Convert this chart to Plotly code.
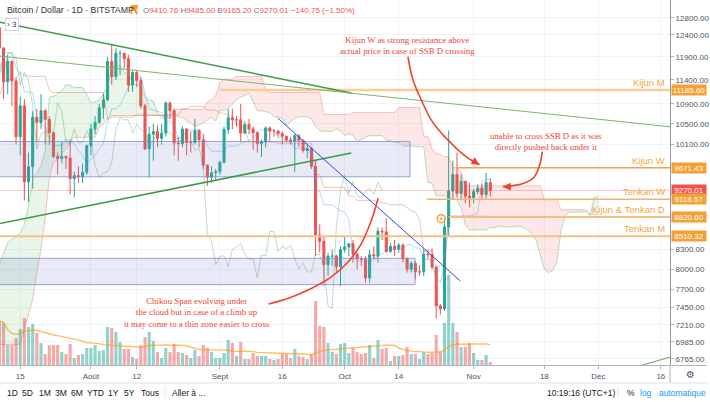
import numpy as np
import pandas as pd
import plotly.graph_objects as go

# ---------------- data ----------------
candle_start = "2019-07-10"
first_open = 12570.0
close = [12100, 11360, 11800, 11380, 10250, 10860, 9420, 9690, 10630, 10530, 10760, 10590, 10330, 9880, 9840, 9880, 9850, 9480, 9530, 9510, 9590, 10080,
         10400, 10530, 10820, 10980, 11800, 11470, 11980, 11980, 11860, 11290, 11560, 11390, 10860, 10020, 10300, 10350, 10220, 10320, 10920, 10760, 10130, 10120, 10400, 10140, 10140, 10370, 10190, 9720, 9500, 9580, 9600,
         9770, 10390, 10620, 10580, 10580, 10320, 10490, 10400, 10330, 10120, 10150, 10420, 10360, 10360, 10310, 10260, 10190, 10160, 10270, 10180, 9990, 10030, 9700, 8530, 8430, 8070, 8200, 8200, 8040, 8300,
         8340, 8390, 8230, 8160, 8150, 7870, 8220, 8200, 8590, 8580, 8270, 8350, 8310, 8370, 8160, 8000, 8090, 7960, 7960, 8230, 8220, 8030, 7470, 7430, 8660, 9260, 9550, 9220, 9430, 9170, 9150,
         9250, 9310, 9200, 9410.76, 9270.01]
high = [13200, 12120, 11950, 11830, 11450, 11050, 11000, 9950, 10750, 10800, 11100, 10800, 10650, 10350, 9950, 10150, 9900, 10200, 9600, 9700, 9750, 10100,
        10500, 10650, 10900, 11100, 11900, 12200, 12100, 12050, 12000, 11950, 11600, 11600, 11450, 10900, 10450, 10500, 10470, 10500, 10950, 10950, 10800, 10250, 10450, 10420, 10350, 10600, 10400, 10300, 9730, 9700, 9650,
        9800, 10450, 10800, 10800, 10650, 10900, 10550, 10600, 10450, 10350, 10200, 10450, 10450, 10400, 10380, 10350, 10270, 10250, 10300, 10300, 10200, 10100, 10050, 9800, 8700, 8500, 8250, 8300, 8220, 8350,
        8500, 8400, 8450, 8250, 8200, 8200, 8300, 8350, 8650, 8650, 8800, 8400, 8450, 8400, 8400, 8180, 8120, 8120, 8060, 8300, 8300, 8320, 8050, 7500, 8800, 10370, 9800, 9950, 9550, 9440, 9400,
        9300, 9380, 9380, 9580, 9485.00]
low = [11600, 11000, 11100, 10850, 10100, 9900, 9100, 9070, 9300, 10150, 10400, 10100, 10100, 9850, 9550, 9750, 9650, 9200, 9150, 9400, 9400, 9550,
       9900, 10300, 10500, 10600, 10950, 11300, 11400, 11500, 11650, 11150, 11150, 11250, 10800, 10000, 9500, 9800, 10050, 10100, 10250, 10600, 9900, 9800, 10050, 9900, 9950, 10100, 10050, 9650, 9350, 9400, 9450,
       9550, 9750, 10300, 10400, 10450, 10150, 10300, 10300, 10000, 9950, 9870, 10050, 10150, 10250, 10250, 10100, 10150, 10100, 9600, 10050, 9950, 9850, 9650, 8200, 8250, 7750, 7900, 8050, 7950, 7750,
       8250, 8200, 8100, 8000, 8050, 7800, 7800, 8150, 8100, 8450, 8250, 8250, 8200, 8250, 8100, 7950, 7950, 7850, 7900, 7900, 8150, 8000, 7300, 7350, 7400, 8500, 9100, 9150, 9100, 9050, 8980,
       9050, 9200, 9100, 9140, 9165.20]
volume = [22000, 21000, 10000, 10000, 13500, 18000, 23500, 19000, 20500, 16000, 11000, 5500, 10000, 10000, 10000, 6500, 5500, 10500, 3500, 5000, 5500, 8500,
          8500, 10000, 7000, 7500, 19000, 18500, 16500, 11500, 8000, 8000, 4000, 3000, 10000, 14000, 16500, 12000, 6500, 3500, 8500, 6500, 10500, 6500, 6000, 5000, 3500, 7500, 4500, 10000, 8500, 6500, 3500,
          3500, 6000, 12500, 11000, 4500, 11500, 3000, 3000, 6000, 4500, 4500, 4500, 3000, 2500, 3000, 5500, 5500, 3500, 8000, 4500, 4000, 3000, 5500, 32000, 19500, 19000, 11000, 6500, 5500, 10500,
          11000, 6000, 8500, 6500, 5500, 6000, 10000, 3500, 12500, 8000, 8500, 2000, 4500, 4500, 5000, 9000, 5500, 5500, 3000, 6500, 5500, 6000, 15000, 6500, 21000, 45000, 21000, 16500, 9000, 9000, 11000,
          6000, 2500, 2500, 5000, 1500]

tenkan = [11450, 12000, 12000, 12000, 11650, 11550, 11150, 11135, 11135, 10595, 10510, 10450, 10260, 10085, 10085, 10085, 10200, 10150, 10125, 9975, 9900, 9750,
          9825, 9900, 10025, 10125, 10525, 10800, 10800, 10875, 11050, 11250, 11350, 11400, 11500, 11100, 10800, 10775, 10750, 10725, 10550, 10550, 10475, 10225, 10225, 10375, 10375, 10375, 10375, 10300, 10075, 9975, 9975,
          9975, 9975, 10075, 10075, 10075, 10125, 10150, 10175, 10225, 10325, 10385, 10385, 10385, 10385, 10235, 10235, 10160, 10160, 10025, 10025, 10025, 10000, 9990, 9275, 9250, 9025, 9025, 9025, 8975, 8925,
          8900, 8775, 8225, 8125, 8125, 8125, 8125, 8125, 8225, 8225, 8300, 8300, 8300, 8300, 8300, 8375, 8375, 8325, 8325, 8150, 8150, 8125, 7850, 7810, 8050, 8835, 8835, 8835, 8835, 8835, 8835,
          8860, 8885, 9435, 9465, 9465]
kijun = [11065, 11340, 11415, 11415, 11440, 11565, 11490, 11475, 11475, 11475, 11475, 11475, 11185, 11135, 11135, 11135, 11135, 11135, 11135, 11135, 11135, 11135,
         11135, 11135, 11135, 11135, 10595] + [10635] * 6 + [10675] * 11 + [10800] * 2 + [10850] * 4 + [10775] * 3 + \
        [10725, 10700, 10675, 10650, 10475, 10475, 10400] + [10150] * 7 + [10125] * 9 + [9550, 9550] + [9325] * 5 + \
        [9325, 9175, 9175] + [9100] * 5 + [9075, 9065, 9050] + [9025] * 4 + [8975, 8925, 8900, 8775] + [8275] * 3 + [8050] * 3 + [8835] * 6 + \
        [8835] * 5

cloud_start = "2019-07-10"
span_a = [8075, 8240, 8410, 8460, 8510, 8560, 8700, 9000, 9490, 9575, 9710, 10000, 11040, 11050, 11115, 11165, 11300, 11290, 11240, 11240, 11240, 11095,
          10920, 10945, 10980, 11120, 11260, 11670, 11710, 11710, 11545, 11560, 11320, 11305, 11305, 11030, 10980, 10960, 10720, 10610, 10610, 10610, 10670, 10640, 10630, 10555, 10520, 10440, 10480, 10520, 10580, 10630, 10555,
          10770, 10770, 10805, 10890, 10990, 11040, 11070, 11120, 10920, 10760, 10760, 10740, 10725, 10640, 10640, 10600, 10475, 10540, 10610, 10640, 10640, 10640, 10600, 10450, 10360, 10360, 10350, 10350, 10400, 10360,
          10275, 10300, 10275, 10160, 10190, 10240, 10270, 10270, 10270, 10270, 10180, 10180, 10140, 10140, 10075, 10075, 10075, 10060, 10060, 10060, 9410, 9400, 9175, 9175, 9175, 9150, 9125, 9110, 8975, 8700, 8610,
          8610, 8610, 8610, 8610, 8650, 8645, 8675, 8660, 8660, 8660, 8660, 8675, 8650, 8610, 8550, 8450, 8210, 8000, 7950, 7980, 8100, 8600, 8835, 8900, 8900, 8900, 8900, 8910, 8850, 9150,
          9180]
span_b = [6950, 6950, 6950, 6950, 6950, 6950, 7150, 7350, 7560, 7950, 8300, 8800, 9500, 9790, 9815, 9940, 10015, 10140, 10240, 10240, 10240, 10240,
          10240, 10240, 10440, 10500, 10600] + [10665] * 15 + [10790] * 8 + [10940, 10990, 11065] + \
         [11340] + [11415] * 3 + [11475] * 7 + [11185] + [11135] * 13 + [10685] * 5 + \
         [10685] * 2 + [10725] * 11 + [10825] * 6 + [10250, 10250, 10025, 9925, 9925, 9875, 9875, 9675, 9675, 9600, 9350, 9350] + \
         [9350] * 17 + [9110] * 4 + [8940] * 7 + [8860] * 2 + \
         [8860]

level_names = ["Kijun M", "Kijun W", "Tenkan W", "Kijun & Tenkan D", "Tenkan M"]
level_values = [11185.60, 9671.43, 9118.57, 8820.60, 8510.32]
level_starts = ["2019-09-01", "2019-10-27 18:00", "2019-10-20 20:00", "2019-10-26 00:00", "2019-07-01"]
level_colors = ["#F9CC98", "#F2A24A", "#F4B26E", "#F6BF80", "#F6C284"]
level_widths = [2.5, 1.5, 1.5, 2, 2]
last_price = 9270.01

price_ticks = [12800, 12400, 11900, 11400, 10900, 10500, 10100, 8300, 8000, 7700, 7450, 7210, 6985, 6765]
date_ticks = ["2019-07-15", "2019-08-01", "2019-08-12", "2019-09-01", "2019-09-16", "2019-10-01",
              "2019-10-14", "2019-11-01", "2019-11-18", "2019-12-01", "2019-12-16"]
date_tick_labels = ["15", "Août", "12", "Sept", "16", "Oct", "14", "Nov", "18", "Déc", "16"]

trend_lines = [
    dict(x=["2019-07-09", "2019-10-02 14:00"], y=[12720, 11124], color="#3E9A4B", width=1.5),
    dict(x=["2019-07-09", "2019-12-25"], y=[11930, 10385], color="#7DB36A", width=1),
    dict(x=["2019-07-09", "2019-10-02 14:00"], y=[8700, 9943], color="#3E9A4B", width=1.5),
    dict(x=["2019-09-14 21:00", "2019-10-28 19:00"], y=[10616, 7826], color="#2B4FE8", width=1),
    dict(x=["2019-12-08", "2019-12-25"], y=[6634, 6892], color="#7DB36A", width=1.2),
]
rects = [
    dict(x=["2019-07-01", "2019-10-16 17:00"], y=[9510, 10160]),
    dict(x=["2019-07-01", "2019-10-17 22:00"], y=[7773, 8165]),
]
curve_kijun_w = dict(x=["2019-10-16 05:00", "2019-10-17 10:00", "2019-10-19 10:00", "2019-10-21 19:00", "2019-10-25 00:00",
                        "2019-10-25 19:00", "2019-10-28 05:00", "2019-10-30 14:00", "2019-11-02 10:00"],
                     y=[11905, 11399, 10981, 10579, 10252, 10191, 10002, 9854, 9726])
curve_ssb = dict(x=["2019-11-17 12:00", "2019-11-17 00:00", "2019-11-15 14:00", "2019-11-13 05:00", "2019-11-09 22:00", "2019-11-08 00:00"],
                 y=[9967, 9759, 9508, 9401, 9349, 9337])
curve_chikou = dict(x=["2019-10-09 01:00", "2019-10-07 11:00", "2019-10-05 01:00", "2019-10-01 21:00", "2019-09-27 21:00",
                       "2019-09-23 02:00", "2019-09-17 12:00", "2019-09-12 17:00"],
                    y=[9137, 8776, 8398, 8114, 7889, 7720, 7577, 7497])
circle_box = dict(x=["2019-10-07 14:00", "2019-10-12 22:00"], y=[9155, 9508])
event_point = dict(x=["2019-10-24 05:00"], y=[8793])

# ---------------- build ----------------
dates = pd.date_range(candle_start, periods=len(close), freq="D")
opens = [first_open] + close[:-1]
up = [c >= o for c, o in zip(close, opens)]
vol_ma = pd.Series(volume, dtype=float).rolling(20, min_periods=1).mean()
cdates = pd.date_range(cloud_start, periods=len(span_a), freq="D")

W, H, R, B = 710, 402, 37, 37
PW, PH = W - R, H - B


def px(x):
    return x / PW


def py(y):
    return (PH - y) / PH


fig = go.Figure()

# volume (base axis)
fig.add_trace(go.Bar(x=dates, y=volume, yaxis="y",
                     marker=dict(color=["rgba(38,166,154,0.5)" if u else "rgba(239,83,80,0.5)" for u in up],
                                 line=dict(width=0))))
fig.add_trace(go.Scatter(x=dates, y=vol_ma, yaxis="y", mode="lines",
                         line=dict(color="rgba(255,152,0,0.65)", width=1.3)))

# cloud polygons
t = cdates.values.astype("int64").astype(float)
a = np.array(span_a, float)
b = np.array(span_b, float)
segs = []
cur = ([t[0]], [a[0]], [b[0]])
sign = a[0] >= b[0]
for i in range(1, len(t)):
    s = a[i] >= b[i]
    if s != sign:
        d0, d1 = a[i - 1] - b[i - 1], a[i] - b[i]
        f = d0 / (d0 - d1)
        tc = t[i - 1] + f * (t[i] - t[i - 1])
        vc = a[i - 1] + f * (a[i] - a[i - 1])
        cur[0].append(tc); cur[1].append(vc); cur[2].append(vc)
        segs.append((sign, cur))
        cur = ([tc], [vc], [vc])
        sign = s
    cur[0].append(t[i]); cur[1].append(a[i]); cur[2].append(b[i])
segs.append((sign, cur))
for sg, (tt, aa, bb) in segs:
    xs = pd.to_datetime(np.array(tt + tt[::-1]).astype("int64"))
    fig.add_trace(go.Scatter(x=xs, y=aa + bb[::-1], yaxis="y2", mode="lines", fill="toself",
                             fillcolor="rgba(76,175,80,0.13)" if sg else "rgba(244,67,54,0.12)",
                             line=dict(width=0), hoverinfo="skip"))
fig.add_trace(go.Scatter(x=cdates, y=span_a, yaxis="y2", mode="lines", line=dict(color="rgba(102,187,106,0.45)", width=1)))
fig.add_trace(go.Scatter(x=cdates, y=span_b, yaxis="y2", mode="lines", line=dict(color="rgba(239,83,80,0.35)", width=1)))
fig.add_trace(go.Scatter(x=dates, y=tenkan, yaxis="y2", mode="lines", line=dict(color="rgba(33,150,243,0.35)", width=1)))
fig.add_trace(go.Scatter(x=dates, y=kijun, yaxis="y2", mode="lines", line=dict(color="rgba(190,60,70,0.3)", width=1)))
fig.add_trace(go.Scatter(x=dates - pd.Timedelta(days=26), y=close, yaxis="y2", mode="lines",
                         line=dict(color="rgba(67,160,71,0.35)", width=1)))

# last price line
fig.add_trace(go.Scatter(x=["2019-07-01", "2019-12-31"], y=[last_price, last_price], yaxis="y2", mode="lines",
                         line=dict(color="rgba(239,83,80,0.3)", width=1)))

# candles
fig.add_trace(go.Candlestick(x=dates, open=opens, high=high, low=low, close=close, yaxis="y2",
                             increasing=dict(line=dict(color="#26A69A", width=1), fillcolor="#26A69A"),
                             decreasing=dict(line=dict(color="#EF5350", width=1), fillcolor="#EF5350"),
                             whiskerwidth=0))

# rectangles
for r in rects:
    fig.add_trace(go.Scatter(x=[r["x"][0], r["x"][1], r["x"][1], r["x"][0], r["x"][0]],
                             y=[r["y"][1], r["y"][1], r["y"][0], r["y"][0], r["y"][1]],
                             yaxis="y2", mode="lines", fill="toself", fillcolor="rgba(121,134,203,0.17)",
                             line=dict(color="rgba(121,134,203,0.75)", width=1)))

# horizontal levels
for nm, v, st, c, w in zip(level_names, level_values, level_starts, level_colors, level_widths):
    fig.add_trace(go.Scatter(x=[st, "2019-12-31"], y=[v, v], yaxis="y2", mode="lines", line=dict(color=c, width=w)))

# trend lines
for tl in trend_lines:
    fig.add_trace(go.Scatter(x=tl["x"], y=tl["y"], yaxis="y2", mode="lines", line=dict(color=tl["color"], width=tl["width"])))

# red curves
for cv in (curve_kijun_w, curve_ssb, curve_chikou):
    fig.add_trace(go.Scatter(x=cv["x"], y=cv["y"], yaxis="y2", mode="lines",
                             line=dict(color="#F0432F", width=1.6, shape="spline", smoothing=1)))

fig.add_trace(go.Scatter(x=event_point["x"], y=event_point["y"], yaxis="y2", mode="markers",
                         marker=dict(symbol="circle-open-dot", size=8, color="#F7A12C", line=dict(width=1.5, color="#F7A12C"))))

shapes = [
    dict(type="circle", xref="x", yref="y2", x0=circle_box["x"][0], x1=circle_box["x"][1],
         y0=np.log10(circle_box["y"][0]), y1=np.log10(circle_box["y"][1]), line=dict(color="#F0432F", width=1.6)),
    # chrome
    dict(type="line", xref="paper", yref="paper", x0=0, x1=W / PW, y0=py(383), y1=py(383), line=dict(color="#E0E3EB", width=1)),
    dict(type="line", xref="paper", yref="paper", x0=1, x1=W / PW, y0=py(365.5), y1=py(365.5), line=dict(color="#B2B5BE", width=1)),
    dict(type="line", xref="paper", yref="paper", x0=1, x1=1, y0=py(365), y1=py(383), line=dict(color="#B2B5BE", width=1)),
    dict(type="line", xref="paper", yref="paper", x0=px(166), x1=px(166), y0=py(386), y1=py(398), line=dict(color="#E0E3EB", width=1)),
    dict(type="line", xref="paper", yref="paper", x0=px(621), x1=px(621), y0=py(386), y1=py(398), line=dict(color="#E0E3EB", width=1)),
    dict(type="path", xref="paper", yref="paper",
         path="M %f,%f L %f,%f L %f,%f L %f,%f Z" % (px(132), py(6), px(138), py(6), px(136), py(10), px(138), py(14)) +
              " M %f,%f L %f,%f" % (px(132), py(6), px(132), py(14)),
         fillcolor="#F7931A", line=dict(color="#F7931A", width=1.5)),
]

FONT = "Liberation Sans"
SERIF = "Liberation Serif"
RED = "#F0432F"
ann = []


def note(x, y, text, size, color, family=FONT, **kw):
    d = dict(xref="paper", yref="paper", x=px(x), y=py(y), xanchor="center", yanchor="middle",
             showarrow=False, text=text, font=dict(family=family, size=size, color=color))
    d.update(kw)
    ann.append(d)


note(5, 10, "Bitcoin / Dollar · 1D · BITSTAMP", 8.8, "#333", xanchor="left")
g = "<span style='color:#787B86'>%s</span>"
note(142, 10, (g % "O") + "9410.76 " + (g % "H") + "9485.00 " + (g % "B") + "9165.20 " + (g % "C") + "9270.01 −140.75 (−1.50%)",
     8, "#EF5350", xanchor="left")
note(5, 24.5, "› 3", 8, "#333", xanchor="left", bordercolor="#D1D4DC", borderwidth=1, borderpad=1, bgcolor="white")

# level labels
for nm, v in zip(level_names, level_values):
    ann.append(dict(xref="paper", yref="y2", x=px(670), y=np.log10(v), xanchor="right", yanchor="bottom", showarrow=False,
                    text=nm, font=dict(family=FONT, size=9.5, color="#F5A43C")))
box_vals = [11185.60, 9671.43, last_price, 9118.57, 8820.60, 8510.32]
box_cols = ["#F5A035", "#F5A035", "#EF5350", "#F5A035", "#F5A035", "#F5A035"]
for v, c in zip(box_vals, box_cols):
    ann.append(dict(xref="paper", yref="y2", x=1, y=np.log10(v), xanchor="left", yanchor="middle", showarrow=False,
                    text="%.2f" % v, font=dict(family=FONT, size=8, color="white"), bgcolor=c,
                    width=34, height=10, borderpad=0, xshift=1))

# red notes
note(409, 45.5, "Kijun W as strong resistance above<br>actual price in case of SSB D crossing", 8.8, RED, family=SERIF)
note(548, 141.5, "unable to cross SSB D as it was<br>directly pushed back under it", 8.8, RED, family=SERIF)
note(198, 312.5, "Chikou Span evolving under<br>the cloud but in case of a climb up<br>it may come to a thin zone easier to cross",
     8.8, RED, family=SERIF)
ann.append(dict(xref="x", yref="y2", x=curve_kijun_w["x"][-1], y=np.log10(curve_kijun_w["y"][-1]), ax=-10, ay=-6,
                showarrow=True, arrowhead=2, arrowsize=1, arrowwidth=1.6, arrowcolor=RED, text=""))
ann.append(dict(xref="x", yref="y2", x=curve_ssb["x"][-1], y=np.log10(curve_ssb["y"][-1]), ax=10, ay=0,
                showarrow=True, arrowhead=2, arrowsize=1, arrowwidth=1.6, arrowcolor=RED, text=""))

# bottom toolbar
tb = [("1D", 13), ("5D", 28), ("1M", 45), ("3M", 61), ("6M", 77), ("YTD", 96), ("1Y", 114), ("5Y", 130), ("Tous", 151),
      ("Aller à ...", 190), ("10:19:16 (UTC+1)", 584), ("%", 634)]
for txt, x in tb:
    note(x, 392.5, txt, 8.5, "#131722")
note(649, 392.5, "log", 8.5, "#2196F3")
note(686, 392.5, "automatique", 8.5, "#2196F3")
note(694, 374.5, "⚙", 10, "#50535E", family="DejaVu Sans")

fig.update_layout(
    width=W, height=H, margin=dict(l=0, r=R, t=0, b=B),
    paper_bgcolor="white", plot_bgcolor="white", showlegend=False,
    font=dict(family=FONT),
    xaxis=dict(type="date", range=["2019-07-10 03:25", "2019-12-18 04:50"], tickvals=date_ticks, ticktext=date_tick_labels,
               showgrid=True, gridcolor="#F0F3FA", gridwidth=1, tickfont=dict(family=FONT, size=8, color="#50535E"),
               ticks="outside", ticklen=3, tickcolor="#B2B5BE", showline=True, linecolor="#B2B5BE",
               rangeslider=dict(visible=False), zeroline=False),
    yaxis=dict(range=[0, 182500], visible=False, showgrid=False, zeroline=False),
    yaxis2=dict(type="log", overlaying="y", side="right", range=[np.log10(6688), np.log10(13238)],
                tickvals=price_ticks, ticktext=["%.2f" % v for v in price_ticks],
                showgrid=True, gridcolor="#F0F3FA", tickfont=dict(family=FONT, size=8, color="#50535E"),
                ticks="outside", ticklen=3, tickcolor="#B2B5BE", showline=True, linecolor="#9598A1", zeroline=False),
    bargap=0.25, shapes=shapes, annotations=ann,
)

fig.write_html("out.html")
